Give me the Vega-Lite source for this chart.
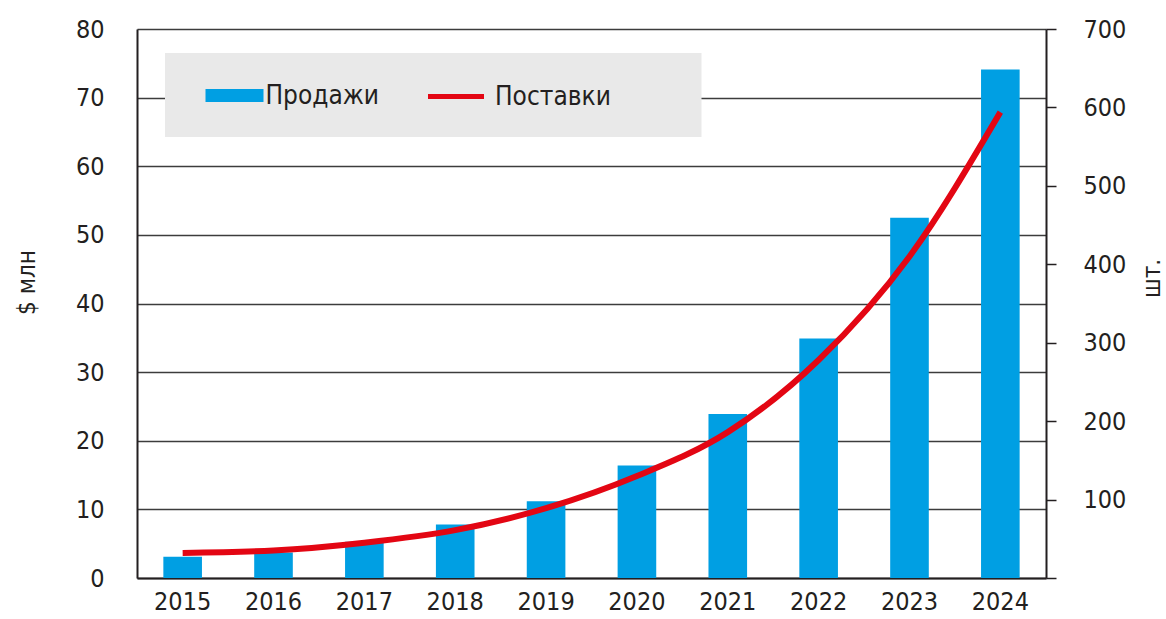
{
  "$schema": "https://vega.github.io/schema/vega-lite/v6.json",
  "width": 909,
  "height": 549,
  "autosize": {"type": "none"},
  "padding": {"left": 137, "top": 29, "right": 120, "bottom": 41},
  "background": "white",
  "config": {
    "view": {"stroke": null},
    "font": "DejaVu Sans Condensed, sans-serif",
    "axis": {"labelFont": "DejaVu Sans Condensed, sans-serif", "titleFont": "DejaVu Sans Condensed, sans-serif"},
    "legend": {"labelFont": "DejaVu Sans Condensed, sans-serif"}
  },
  "data": {
    "values": [
      {"year": "2015", "sales": 3.1, "shipments": 32},
      {"year": "2016", "sales": 3.7, "shipments": 35},
      {"year": "2017", "sales": 5.3, "shipments": 45},
      {"year": "2018", "sales": 7.8, "shipments": 61},
      {"year": "2019", "sales": 11.2, "shipments": 89},
      {"year": "2020", "sales": 16.4, "shipments": 130},
      {"year": "2021", "sales": 23.9, "shipments": 186},
      {"year": "2022", "sales": 34.9, "shipments": 278},
      {"year": "2023", "sales": 52.5, "shipments": 410},
      {"year": "2024", "sales": 74.1, "shipments": 594}
    ]
  },
  "encoding": {
    "x": {
      "field": "year",
      "type": "ordinal",
      "scale": {"paddingInner": 0.575, "paddingOuter": 0.29},
      "axis": {
        "orient": "bottom",
        "title": null,
        "ticks": false,
        "grid": false,
        "domain": true,
        "domainWidth": 2,
        "domainColor": "#231f20",
        "labelPadding": 11,
        "labelFontSize": 25,
        "labelColor": "#231f20",
        "labelAngle": 0
      }
    }
  },
  "layer": [
    {
      "mark": {"type": "bar"},
      "encoding": {
        "y": {
          "field": "sales",
          "type": "quantitative",
          "scale": {"domain": [0, 80]},
          "axis": {
            "orient": "left",
            "values": [0, 10, 20, 30, 40, 50, 60, 70, 80],
            "grid": true,
            "gridColor": "#3c3c3c",
            "gridWidth": 1.5,
            "ticks": false,
            "domain": true,
            "domainColor": "#231f20",
            "domainWidth": 2,
            "labelPadding": 33,
            "labelFontSize": 25,
            "labelColor": "#231f20",
            "labelFlush": false,
            "labelOverlap": false,
            "labelBound": false,
            "title": "$ млн",
            "titleFontSize": 24,
            "titleFontWeight": "normal",
            "titleColor": "#231f20",
            "titleX": -110,
            "titleY": 253,
            "titleAngle": 270,
            "titleAlign": "center",
            "titleBaseline": "middle"
          }
        },
        "fill": {
          "datum": "Продажи",
          "scale": {"range": ["#009fe3"]},
          "legend": {
            "orient": "none",
            "legendX": 28,
            "legendY": 24,
            "title": "\u00a0",
            "titleOrient": "left",
            "titlePadding": 27,
            "titleFontSize": 10,
            "fillColor": "#e9e9e9",
            "padding": 28,
            "symbolType": "M-2,-0.44H2V0.44H-2Z",
            "symbolSize": 841,
            "symbolStrokeWidth": 0,
            "symbolOpacity": 1,
            "labelFontSize": 26,
            "labelColor": "#231f20",
            "labelOffset": 16.5,
            "labelExpr": "datum.label + '\u2800\u2800'"
          }
        }
      }
    },
    {
      "mark": {"type": "line", "interpolate": "monotone", "strokeWidth": 6, "strokeCap": "butt"},
      "encoding": {
        "y": {
          "field": "shipments",
          "type": "quantitative",
          "scale": {"domain": [0, 700]},
          "axis": {
            "orient": "right",
            "values": [0, 100, 200, 300, 400, 500, 600, 700],
            "grid": false,
            "ticks": true,
            "tickSize": 10,
            "tickWidth": 1.5,
            "tickColor": "#231f20",
            "domain": true,
            "domainColor": "#231f20",
            "domainWidth": 2,
            "labelPadding": 27,
            "labelFontSize": 25,
            "labelColor": "#231f20",
            "labelFlush": false,
            "labelOverlap": false,
            "labelBound": false,
            "labelExpr": "datum.value == 0 ? '' : datum.label",
            "title": "шт.",
            "titleFontSize": 24,
            "titleFontWeight": "normal",
            "titleColor": "#231f20",
            "titleX": 106,
            "titleY": 249,
            "titleAngle": 270,
            "titleAlign": "center",
            "titleBaseline": "middle"
          }
        },
        "stroke": {
          "datum": "Поставки",
          "scale": {"range": ["#e30613"]},
          "legend": {
            "orient": "none",
            "legendX": 275.5,
            "legendY": 24,
            "title": "\u00a0",
            "titleOrient": "right",
            "titlePadding": 64,
            "titleFontSize": 10,
            "fillColor": "#e9e9e9",
            "padding": 27,
            "symbolType": "M-2,0H2",
            "symbolSize": 784,
            "symbolStrokeWidth": 5,
            "labelFontSize": 26,
            "labelColor": "#231f20",
            "labelOffset": 22.5
          }
        }
      }
    }
  ],
  "resolve": {"scale": {"y": "independent"}}
}
